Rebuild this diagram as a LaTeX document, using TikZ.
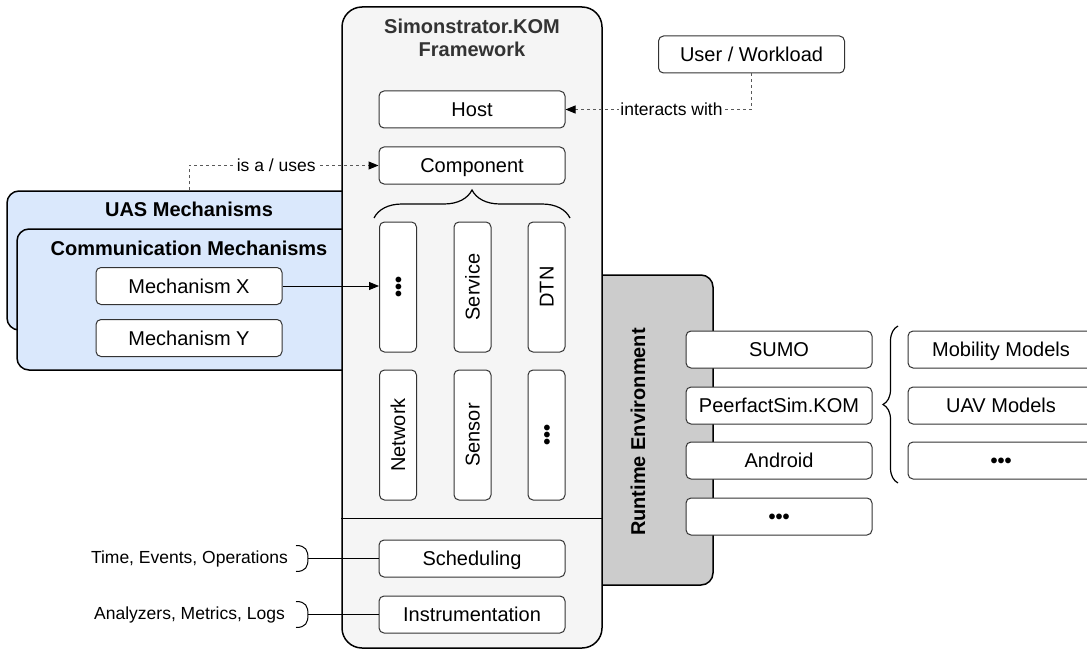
\documentclass[tikz,border=0pt]{standalone}
\usepackage{fontspec}
\setmainfont{Liberation Sans}
\usetikzlibrary{arrows.meta,decorations.pathreplacing,calc}
\definecolor{uasblue}{HTML}{DAE8FC}
\definecolor{fwgray}{HTML}{F5F5F5}
\definecolor{rtgray}{HTML}{CCCCCC}
\definecolor{titlegray}{HTML}{333333}
\tikzset{
  lbl/.style={font=\fontsize{20}{24}\selectfont, text height=14.3pt, text depth=0pt},
  smalllbl/.style={font=\fontsize{17.5}{21}\selectfont},
  hdr/.style={font=\fontsize{20}{24}\selectfont\bfseries},
  itembox/.style={draw=black!80, line width=1pt, fill=white, rounded corners=5pt,
    minimum width=186pt, minimum height=37pt, inner sep=0pt, lbl},
  colbox/.style={itembox, rotate=90, minimum width=130pt, minimum height=37pt},
  groupbox/.style={draw=black, line width=1.5pt, rounded corners=12pt, inner sep=0pt},
  dotline/.style={draw=black!65, line width=1pt, dash pattern=on 3pt off 3pt},
  tipend/.style={-{Triangle[length=10pt,width=8pt,color=black]}},
  plainline/.style={draw=black, line width=1pt},
  bracegroup/.style={draw=black, line width=1.2pt, decorate}
}
\newcommand{\bulletdots}{\textbf{•••}}
\begin{document}
\begin{tikzpicture}[x=1pt,y=-1pt]
\useasboundingbox (0,0) rectangle (1087,650);
\fill[white] (0,0) rectangle (1087,650);

% mechanism groups on the left (partly behind the framework)
\node[groupbox, fill=uasblue, minimum width=364pt, minimum height=139pt] (uas) at (189,260.5) {};
\node[hdr, anchor=center] (uast) at (189,209) {UAS Mechanisms};
\node[groupbox, fill=uasblue, minimum width=344pt, minimum height=141pt] (comm) at (189,299.5) {};
\node[hdr] (commt) at (189,248) {Communication Mechanisms};
\node[itembox] (mx) at (189,286) {Mechanism X};
\node[itembox] (my) at (189,338) {Mechanism Y};

% runtime environment (behind the framework)
\node[groupbox, fill=rtgray, minimum width=153pt, minimum height=310pt] (rt) at (636.5,430) {};
\node[hdr, rotate=90] (rtt) at (638,432) {Runtime Environment};

% framework container
\node[groupbox, fill=fwgray, rounded corners=20pt, minimum width=260pt, minimum height=641pt] (fw) at (472,327.5) {};
\node[hdr, text=titlegray, align=center, text width=250pt] (fwt) at (472,38) {Simonstrator.KOM\\[-1pt]Framework};
\draw[plainline] (fw.west |- 0,518.5) -- (fw.east |- 0,518.5);

\node[itembox] (host) at (472,109.5) {Host};
\node[itembox] (comp) at (472,165.5) {Component};

% component columns (rotated boxes: their north side faces left)
\node[colbox] (c1) at (398,287) {\bulletdots};
\node[colbox] (c2) at (472.5,287) {Service};
\node[colbox] (c3) at (546.5,287) {DTN};
\node[colbox] (c4) at (398,435) {Network};
\node[colbox] (c5) at (472.5,435) {Sensor};
\node[colbox] (c6) at (546.5,435) {\bulletdots};
\draw[bracegroup, decoration={brace, amplitude=28pt}] (374,218) -- (570,218);

\node[itembox] (sched) at (472,558.5) {Scheduling};
\node[itembox] (instr) at (472,614.5) {Instrumentation};

% user / workload
\node[itembox] (user) at (751.5,54.5) {User / Workload};

% runtime items
\node[itembox] (sumo) at (779,349.5) {SUMO};
\node[itembox] (peer) at (779,405.5) {PeerfactSim.KOM};
\node[itembox] (andr) at (779,460.5) {Android};
\node[itembox] (rtmore) at (779,516.5) {\bulletdots};
\draw[bracegroup, decoration={brace, amplitude=15pt}] (898,483) -- (898,326);
\node[itembox] (mob) at (1001,349.5) {Mobility Models};
\node[itembox] (uav) at (1001,405.5) {UAV Models};
\node[itembox] (mmore) at (1001,460.5) {\bulletdots};

% connectors
\draw[dotline, tipend] (uas.north) |- node[pos=0.73, fill=white, inner sep=1pt, smalllbl, text=black] {is a / uses} (comp.west);
\draw[dotline, tipend] (user.south) |- node[pos=0.715, fill=white, inner sep=1pt, smalllbl, text=black] {interacts with} (host.east);
\draw[plainline, tipend] (mx.east) -- (mx.east -| c1.north);

% side labels with small brackets
\node[smalllbl, anchor=east, inner sep=0pt] (tl1) at (288,558.5) {Time, Events, Operations};
\coordinate (b1) at (308,558.5);
\draw[plainline] ($(b1)+(-12,-13)$) .. controls ($(b1)+(-2,-13)$) and ($(b1)+(0,-8)$) .. (b1)
  .. controls ($(b1)+(0,8)$) and ($(b1)+(-2,13)$) .. ($(b1)+(-12,13)$);
\draw[plainline] (b1) -- (sched.west);

\node[smalllbl, anchor=east, inner sep=0pt] (tl2) at (285,614.5) {Analyzers, Metrics, Logs};
\coordinate (b2) at (308,614.5);
\draw[plainline] ($(b2)+(-12,-13)$) .. controls ($(b2)+(-2,-13)$) and ($(b2)+(0,-8)$) .. (b2)
  .. controls ($(b2)+(0,8)$) and ($(b2)+(-2,13)$) .. ($(b2)+(-12,13)$);
\draw[plainline] (b2) -- (instr.west);
\end{tikzpicture}
\end{document}
